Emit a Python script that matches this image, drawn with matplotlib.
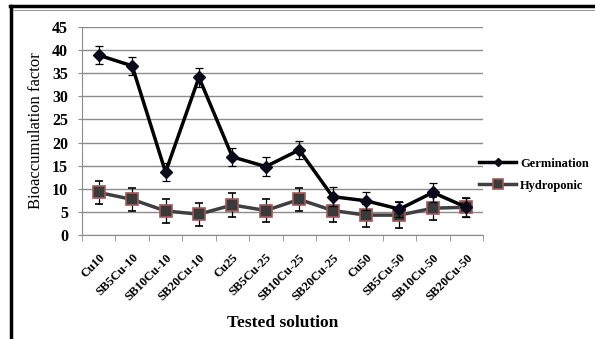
import matplotlib.pyplot as plt
import numpy as np
from matplotlib.lines import Line2D

plt.rcParams['font.family'] = ['Liberation Serif', 'DejaVu Serif']

categories = ['Cu10', 'SB5Cu-10', 'SB10Cu-10', 'SB20Cu-10',
              'Cu25', 'SB5Cu-25', 'SB10Cu-25', 'SB20Cu-25',
              'Cu50', 'SB5Cu-50', 'SB10Cu-50', 'SB20Cu-50']
germination = [38.9, 36.6, 13.6, 34.1, 16.9, 14.8, 18.4, 8.3, 7.4, 5.6, 9.2, 6.0]
germination_err = [2.0, 2.0, 2.0, 2.0, 2.0, 2.0, 2.0, 2.0, 2.0, 1.6, 2.0, 2.0]
hydroponic = [9.2, 7.7, 5.2, 4.5, 6.5, 5.3, 7.7, 5.3, 4.3, 4.3, 5.8, 6.0]
hydroponic_err = [2.5, 2.5, 2.5, 2.5, 2.5, 2.5, 2.5, 2.5, 2.5, 2.8, 2.5, 2.0]

fig = plt.figure(figsize=(5.95, 3.39), dpi=100)
ax = fig.add_axes([82/595, 1-235/339, 401/595, 208/339])

x = np.arange(len(categories))

hstyle = dict(color='#404040', lw=2.5, marker='s',
              markerfacecolor='#3a3a3a', markeredgecolor='#a05a5a', markeredgewidth=1.2)
gstyle = dict(color='black', lw=2.5, marker='D',
              markerfacecolor='#0a0a1a', markeredgecolor='#0a0a1a')

ax.errorbar(x, hydroponic, yerr=hydroponic_err, ecolor='black', elinewidth=0.9,
            capsize=3, capthick=0.9, zorder=3, markersize=9, **hstyle)
ax.errorbar(x, germination, yerr=germination_err, ecolor='black', elinewidth=0.9,
            capsize=3, capthick=0.9, zorder=4, markersize=6, **gstyle)

ax.set_xlim(-0.5, len(categories) - 0.5)
ax.set_ylim(0, 45)
ax.set_yticks(np.arange(0, 46, 5))
ax.yaxis.grid(True, color='#8c8c8c', lw=1)
ax.set_axisbelow(True)

ax.set_xticks(x)
ax.set_xticks(np.arange(-0.5, len(categories), 1), minor=True)
ax.set_xticklabels(categories, rotation=45, ha='right', va='top',
                   rotation_mode='anchor', fontsize=9, fontweight='bold')
ax.tick_params(axis='x', which='major', length=0, pad=12)
ax.tick_params(axis='x', which='minor', length=4, color='#8c8c8c', direction='out')
ax.tick_params(axis='y', length=3, color='#8c8c8c', labelsize=11.5, pad=7)
for lab in ax.get_yticklabels():
    lab.set_fontweight('bold')

for s in ['top', 'right']:
    ax.spines[s].set_visible(False)
ax.spines['left'].set_color('#8c8c8c')
ax.spines['bottom'].set_color('#8c8c8c')

ax.set_ylabel('Bioaccumulation factor', fontsize=12, labelpad=6)
ax.set_xlabel('Tested solution', fontsize=12.5, fontweight='bold', labelpad=9)

handles = [Line2D([], [], markersize=4, **gstyle),
           Line2D([], [], markersize=7, **hstyle)]
ax.legend(handles, ['Germination', 'Hydroponic'], loc='center left',
          bbox_to_anchor=(0.99, 0.29), frameon=False,
          prop={'weight': 'bold', 'size': 9},
          handlelength=3.0, handletextpad=0.3, labelspacing=0.8,
          borderpad=0, borderaxespad=0)

# frame lines around the picture
fig.add_artist(Line2D([11/595, 11/595], [0, 1-6/339], color='black', lw=2.5,
                      transform=fig.transFigure))
fig.add_artist(Line2D([10/595, 1], [1-6/339, 1-6/339], color='black', lw=2.5,
                      transform=fig.transFigure))
fig.add_artist(Line2D([13/595, 1], [1-9.5/339, 1-9.5/339], color='#9a9a9a', lw=0.8,
                      transform=fig.transFigure))

fig.savefig('out.png', dpi=100)
